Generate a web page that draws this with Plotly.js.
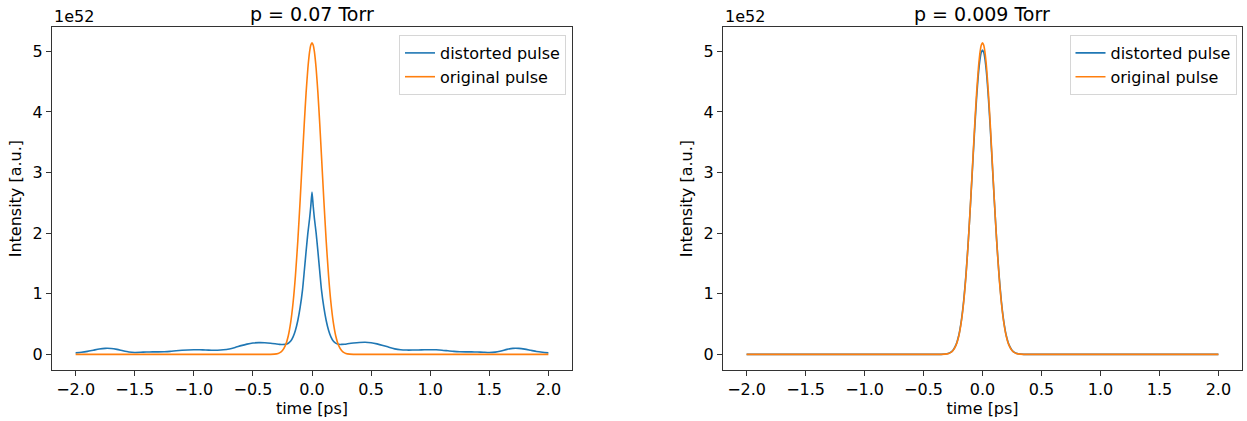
<!DOCTYPE html>
<html>
<head>
<meta charset="utf-8">
<script src="https://cdn.plot.ly/plotly-3.0.1.min.js"></script>
<style>html,body{margin:0;padding:0;background:#fff;}#chart{width:1247px;height:421px;}</style>
</head>
<body>
<div id="chart"></div>
<script>
// time axis [ps]
const time = [-2.0,-1.95,-1.9,-1.85,-1.8,-1.75,-1.7,-1.65,-1.6,-1.55,-1.5,-1.45,-1.4,-1.35,-1.3,-1.25,-1.2,-1.15,-1.1,-1.05,-1.0,-0.95,-0.9,-0.85,-0.8,-0.75,-0.7,-0.65,-0.6,-0.55,-0.5,-0.45,-0.4,
  -0.35,-0.3,-0.275,-0.25,-0.225,-0.2,-0.18,-0.16,-0.14,-0.12,-0.1,-0.08,-0.065,-0.05,-0.035,-0.02,-0.01,
  0,
  0.01,0.02,0.035,0.05,0.065,0.08,0.1,0.12,0.14,0.16,0.18,0.2,0.225,0.25,0.275,0.3,0.35,
  0.4,0.45,0.5,0.55,0.6,0.65,0.7,0.75,0.8,0.85,0.9,0.95,1.0,1.05,1.1,1.15,1.2,1.25,1.3,1.35,1.4,1.45,1.5,1.55,1.6,1.65,1.7,1.75,1.8,1.85,1.9,1.95,2.0];

// intensities in units of 1e52
const originalPulse = [0,0,0,0,0,0,0,0,0,0,0,0,0,0,0,0,0,0,0,0,0,0,0,0,0,0,0,0,0,0,0,0,0,
  0.001,0.009,0.026,0.065,0.149,0.313,0.532,0.856,1.303,1.876,2.552,3.284,3.824,4.315,4.717,4.998,5.104,
  5.14,
  5.104,4.998,4.717,4.315,3.824,3.284,2.552,1.876,1.303,0.856,0.532,0.313,0.149,0.065,0.026,0.009,0.001,
  0,0,0,0,0,0,0,0,0,0,0,0,0,0,0,0,0,0,0,0,0,0,0,0,0,0,0,0,0,0,0,0,0];

const distorted007 = [0.025,0.035,0.05,0.07,0.09,0.1,0.098,0.083,0.06,0.04,0.032,0.035,0.04,0.042,0.042,0.044,0.05,0.06,0.068,0.074,0.077,0.076,0.073,0.07,0.07,0.076,0.09,0.115,0.145,0.17,0.188,0.195,0.193,
  0.185,0.172,0.166,0.163,0.166,0.185,0.22,0.29,0.40,0.56,0.78,1.07,1.38,1.7,2.0,2.25,2.45,
  2.68,
  2.45,2.25,2.0,1.7,1.38,1.07,0.78,0.56,0.40,0.29,0.22,0.186,0.167,0.165,0.168,0.175,0.188,
  0.197,0.2,0.192,0.174,0.148,0.118,0.092,0.077,0.072,0.072,0.074,0.077,0.078,0.076,0.07,0.06,0.05,0.044,0.042,0.042,0.04,0.036,0.032,0.038,0.058,0.083,0.1,0.1,0.088,0.068,0.048,0.035,0.025];

const distorted0009 = [0,0,0,0,0,0,0,0,0,0,0,0,0,0,0,0,0,0,0,0,0,0,0,0,0,0,0,0,0,0,0,0,0,
  0.0015,0.011,0.029,0.07,0.157,0.325,0.55,0.875,1.32,1.885,2.54,3.24,3.76,4.23,4.62,4.885,4.985,
  5.02,
  4.985,4.885,4.62,4.23,3.76,3.24,2.54,1.885,1.32,0.875,0.55,0.325,0.157,0.07,0.029,0.011,0.0015,
  0,0,0,0,0,0,0,0,0,0,0,0,0,0,0,0,0,0,0,0,0,0,0,0,0,0,0,0,0,0,0,0,0];

const panelTitles = ["p = 0.07 Torr", "p = 0.009 Torr"];
const seriesNames = ["distorted pulse", "original pulse"];
const xTickVals = [-2.0,-1.5,-1.0,-0.5,0.0,0.5,1.0,1.5,2.0];
const yTickVals = [0,1,2,3,4,5];

const FONT = "DejaVu Sans, sans-serif";
const FS = 16;
const BLUE = "#1f77b4", ORANGE = "#ff7f0e";

function tr(y, name, color, xa, ya, leg){
  return {x: time, y: y, name: name, type: "scatter", mode: "lines",
    line: {color: color, width: 1.6, shape: "spline", smoothing: 0.6},
    xaxis: xa, yaxis: ya, legend: leg, hoverinfo: "skip"};
}

const data = [
  tr(distorted007, seriesNames[0], BLUE, "x", "y", "legend"),
  tr(originalPulse, seriesNames[1], ORANGE, "x", "y", "legend"),
  tr(distorted0009, seriesNames[0], BLUE, "x2", "y2", "legend2"),
  tr(originalPulse, seriesNames[1], ORANGE, "x2", "y2", "legend2")
];

const yDom = [51/421, 393.7/421];
const xDom1 = [52/1247, 572/1247];
const xDom2 = [723/1247, 1242/1247];

function xax(dom, anchor){
  return {domain: dom, anchor: anchor, range: [-2.2, 2.2], tickvals: xTickVals, tickformat: ".1f",
    showgrid: false, zeroline: false, showline: true, mirror: true, linecolor: "#333", linewidth: 1,
    ticks: "outside", ticklen: 5, tickwidth: 1, tickcolor: "#333",
    tickfont: {family: FONT, size: FS, color: "#000"},
    title: {text: "time [ps]", font: {family: FONT, size: FS, color: "#000"}, standoff: 3}};
}
function yax(anchor){
  return {domain: yDom, anchor: anchor, range: [-0.257, 5.397], tickvals: yTickVals,
    showgrid: false, zeroline: false, showline: true, mirror: true, linecolor: "#333", linewidth: 1,
    ticks: "outside", ticklen: 5, tickwidth: 1, tickcolor: "#333",
    tickfont: {family: FONT, size: FS, color: "#000"},
    title: {text: "Intensity [a.u.]", font: {family: FONT, size: FS, color: "#000"}, standoff: 7}};
}
function legend(xr){
  return {x: xr, y: (421-35)/421, xanchor: "right", yanchor: "top", xref: "paper", yref: "paper",
    bgcolor: "rgba(255,255,255,0.8)", bordercolor: "#d6d6d6", borderwidth: 1,
    font: {family: FONT, size: FS, color: "#000"}, itemwidth: 30};
}

const topY = 393.7/421;
const layout = {
  width: 1247, height: 421,
  margin: {l: 0, r: 0, t: 0, b: 0},
  paper_bgcolor: "#fff", plot_bgcolor: "#fff",
  font: {family: FONT, color: "#000"},
  showlegend: true,
  xaxis: xax(xDom1, "y"), yaxis: yax("x"),
  xaxis2: xax(xDom2, "y2"), yaxis2: yax("x2"),
  legend: legend(566/1247),
  legend2: legend(1236.5/1247),
  annotations: [
    {text: panelTitles[0], x: (xDom1[0]+xDom1[1])/2, y: topY, xref: "paper", yref: "paper",
     xanchor: "center", yanchor: "bottom", yshift: 0, showarrow: false, font: {family: FONT, size: 19, color: "#000"}},
    {text: panelTitles[1], x: (xDom2[0]+xDom2[1])/2, y: topY, xref: "paper", yref: "paper",
     xanchor: "center", yanchor: "bottom", yshift: 0, showarrow: false, font: {family: FONT, size: 19, color: "#000"}},
    {text: "1e52", x: xDom1[0], y: topY, xref: "paper", yref: "paper",
     xanchor: "left", yanchor: "bottom", yshift: -1, showarrow: false, font: {family: FONT, size: FS, color: "#000"}},
    {text: "1e52", x: xDom2[0], y: topY, xref: "paper", yref: "paper",
     xanchor: "left", yanchor: "bottom", yshift: -1, showarrow: false, font: {family: FONT, size: FS, color: "#000"}}
  ]
};

Plotly.newPlot("chart", data, layout, {displayModeBar: false, staticPlot: true});
</script>
</body>
</html>
